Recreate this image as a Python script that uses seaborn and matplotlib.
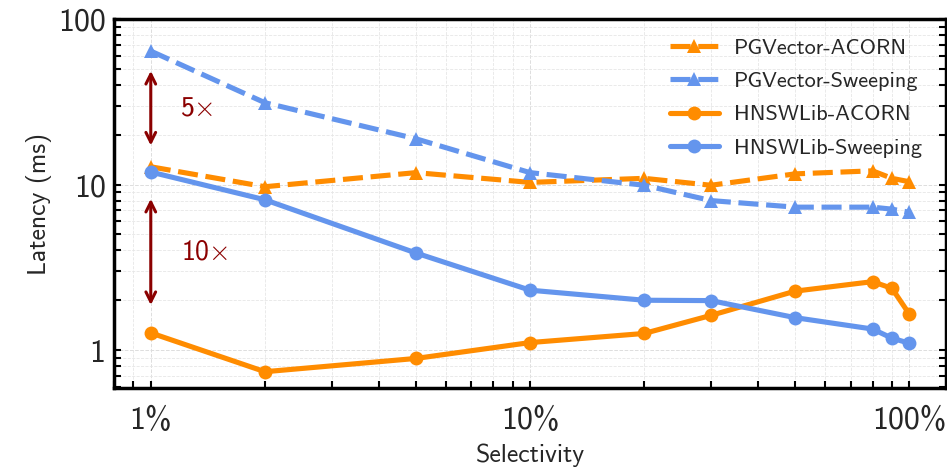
import numpy as np
import pandas as pd
import matplotlib
matplotlib.use("Agg")
import matplotlib.pyplot as plt
from matplotlib.ticker import FuncFormatter, LogLocator, FixedLocator, NullFormatter
import seaborn as sns

selectivity = [1, 2, 5, 10, 20, 30, 50, 80, 90, 100]
pg_acorn = [12.8, 9.7, 11.8, 10.3, 10.9, 9.9, 11.6, 12.1, 10.9, 10.4]
pg_sweep = [64, 31.2, 18.9, 11.8, 9.9, 8.0, 7.3, 7.3, 7.1, 6.8]
hnsw_acorn = [1.27, 0.74, 0.89, 1.11, 1.26, 1.62, 2.27, 2.59, 2.36, 1.65]
hnsw_sweep = [11.9, 8.09, 3.86, 2.30, 2.0, 1.99, 1.57, 1.34, 1.18, 1.10]
series_names = ["PGVector-ACORN", "PGVector-Sweeping", "HNSWLib-ACORN", "HNSWLib-Sweeping"]
x_ticks = [1, 10, 100]
y_ticks = [1, 10, 100]
arrow_top = (48.6, 17.2)
arrow_bot = (8.2, 1.87)
labels_ann = ["5$\\times$", "10$\\times$"]

sns.set_style("white")
plt.rcParams["font.family"] = ["cmss10", "DejaVu Sans"]
plt.rcParams["mathtext.fontset"] = "cm"
plt.rcParams["axes.formatter.use_mathtext"] = False
plt.rcParams["axes.unicode_minus"] = False

ORANGE = "#FF8C00"
BLUE = "#6495ED"
DARKRED = "#8B0000"

fig = plt.figure(figsize=(9.47, 4.69), dpi=100)
ax = fig.add_axes([0.1204, 0.1727, 0.8786, 0.7868])

dash = (0, (3.9, 1.5))
specs = [
    (pg_acorn, ORANGE, "^", dash),
    (pg_sweep, BLUE, "^", dash),
    (hnsw_acorn, ORANGE, "o", "-"),
    (hnsw_sweep, BLUE, "o", "-"),
]
for name, (vals, col, mk, ls) in zip(series_names, specs):
    df = pd.DataFrame({"x": selectivity, "y": vals})
    sns.lineplot(data=df, x="x", y="y", ax=ax, color=col, marker=mk,
                 markersize=10, markeredgewidth=0, linewidth=3.7,
                 linestyle=ls, label=name)

ax.set_xscale("log")
ax.set_yscale("log")
ax.set_xlim(0.8, 125)
ax.set_ylim(0.59, 100)

ax.xaxis.set_major_locator(FixedLocator(x_ticks))
ax.yaxis.set_major_locator(FixedLocator(y_ticks))
ax.xaxis.set_minor_locator(LogLocator(base=10, subs=np.arange(2, 10)))
ax.yaxis.set_minor_locator(LogLocator(base=10, subs=np.arange(2, 10)))
ax.xaxis.set_major_formatter(FuncFormatter(lambda v, p: f"{v:g}%"))
ax.yaxis.set_major_formatter(FuncFormatter(lambda v, p: f"{v:g}"))
ax.xaxis.set_minor_formatter(NullFormatter())
ax.yaxis.set_minor_formatter(NullFormatter())

ax.tick_params(axis="both", which="both", direction="in", color="black",
               width=1.5, length=5, labelsize=23, left=True, right=True,
               bottom=True, top=False)
ax.tick_params(axis="x", which="major", pad=13)
ax.tick_params(axis="y", which="major", pad=6)

ax.grid(True, which="major", color="#dddddd", linestyle="--", linewidth=0.7)
ax.grid(True, which="minor", color="#e6e6e6", linestyle="--", linewidth=0.6)
ax.set_axisbelow(True)

for s in ax.spines.values():
    s.set_visible(True)
    s.set_color("black")
    s.set_linewidth(2.5)

ax.set_xlabel("Selectivity", fontsize=18.5, labelpad=6)
ax.set_ylabel("Latency (ms)", fontsize=18.5, labelpad=4)

arrowprops = dict(arrowstyle="<->,head_length=0.7,head_width=0.35",
                  color=DARKRED, lw=2.2, shrinkA=0, shrinkB=0)
ax.annotate("", xy=(1, arrow_top[0]), xytext=(1, arrow_top[1]), arrowprops=arrowprops)
ax.annotate("", xy=(1, arrow_bot[0]), xytext=(1, arrow_bot[1]), arrowprops=arrowprops)
ax.text(1.32, 29, labels_ann[0], color=DARKRED, fontsize=20, ha="center", va="center")
ax.text(1.39, 3.9, labels_ann[1], color=DARKRED, fontsize=20, ha="center", va="center")

leg = ax.legend(loc="upper right", frameon=False, fontsize=16, handlelength=2.2,
                handletextpad=0.7, labelspacing=0.62, borderaxespad=0.3,
                bbox_to_anchor=(0.99, 0.99))

fig.savefig("out.png", dpi=100)
